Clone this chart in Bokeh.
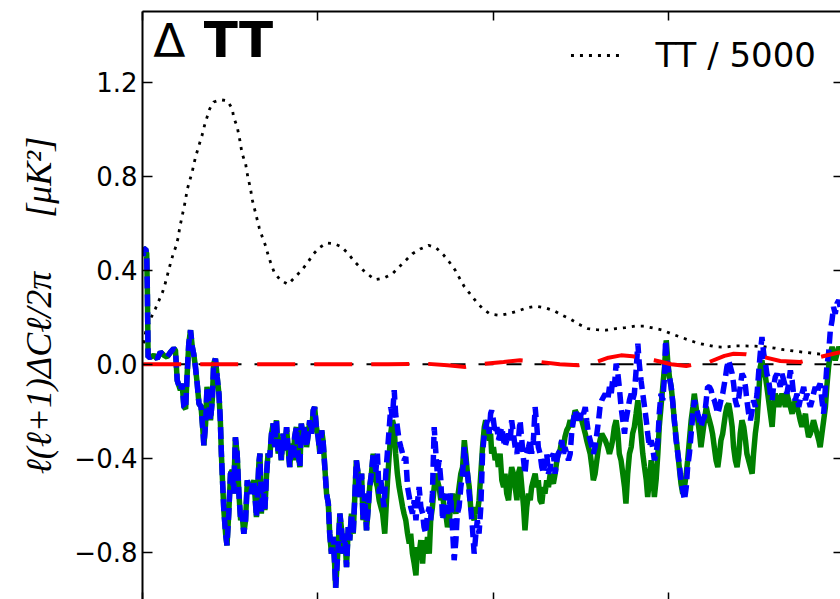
from bokeh.plotting import figure
from bokeh.models import (Range1d, LinearAxis, FixedTicker, CustomJSTickFormatter,
                          Span, Label, Legend, LegendItem)
from bokeh.embed import file_html
from bokeh.resources import INLINE

# ---------------- data ----------------
x_ticks = [0, 500, 1000, 1500, 2000]
y_ticks = [-0.8, -0.4, 0.0, 0.4, 0.8, 1.2]
legend_label = "TT / 5000"
title_symbol = "Δ"
title_text = "TT"
y_label = "ℓ(ℓ+1)ΔCℓ/2π\u2003\u2002[μK²]"

# TT spectrum / 5000  (ell, value)
tt_over_5000 = [
    (2, 0.09), (4, 0.095), (9, 0.137), (25, 0.20), (37, 0.237), (48, 0.275), (58, 0.31),
    (66, 0.35), (73, 0.39), (80, 0.43), (87, 0.466), (95, 0.50), (102, 0.54), (106, 0.58),
    (123, 0.70), (127, 0.74), (142, 0.82), (151, 0.88), (163, 0.94), (170, 0.974),
    (177, 1.016), (184, 1.05), (192, 1.087), (203, 1.115), (222, 1.125), (242, 1.12),
    (256, 1.087), (260, 1.05), (270, 1.01), (278, 0.95), (284, 0.896), (294, 0.853),
    (300, 0.80), (308, 0.747), (313, 0.70), (333, 0.58), (342, 0.54), (352, 0.50),
    (358, 0.466), (366, 0.43), (376, 0.39), (394, 0.357), (415, 0.34), (434, 0.369),
    (454, 0.40), (470, 0.43), (487, 0.468), (504, 0.495), (525, 0.516), (547, 0.513),
    (568, 0.499), (587, 0.47), (604, 0.438), (622, 0.41), (641, 0.385), (663, 0.36),
    (689, 0.367), (713, 0.385), (732, 0.414), (751, 0.442), (770, 0.47), (792, 0.49),
    (816, 0.506), (837, 0.496), (858, 0.466), (875, 0.435), (892, 0.40), (905, 0.364),
    (918, 0.33), (934, 0.30), (951, 0.268), (970, 0.237), (991, 0.214), (1020, 0.208),
    (1044, 0.215), (1072, 0.227), (1096, 0.24), (1123, 0.247), (1150, 0.24), (1175, 0.227),
    (1198, 0.208), (1223, 0.19), (1245, 0.17), (1270, 0.152), (1296, 0.147), (1322, 0.145),
    (1351, 0.152), (1377, 0.156), (1405, 0.162), (1432, 0.162), (1458, 0.154), (1484, 0.145),
    (1508, 0.13), (1534, 0.116), (1560, 0.102), (1584, 0.09), (1612, 0.081), (1636, 0.074),
    (1660, 0.073), (1691, 0.078), (1720, 0.078), (1748, 0.077), (1777, 0.074), (1803, 0.069),
    (1829, 0.062), (1856, 0.057), (1882, 0.052), (1907, 0.048), (1934, 0.043), (1960, 0.040),
    (1990, 0.038),
]

# Delta C_ell common to both estimates at low ell  (ell, value)
delta_low = [
    (2, 0.46), (5, 0.49), (9, 0.49), (12, 0.47), (14, 0.30), (16, 0.03), (23, 0.031),
    (32, 0.038), (42, 0.024), (51, 0.052), (61, 0.038), (70, 0.031), (80, 0.052), (89, 0.067),
    (94, 0.06), (99, -0.068), (108, -0.11), (113, -0.082), (118, -0.18), (123, -0.19),
    (127, -0.054), (132, 0.088), (137, 0.145), (142, 0.074), (146, 0.045), (151, -0.011),
    (156, -0.082), (161, -0.167), (167, -0.18), (173, -0.295), (175, -0.344), (180, -0.252),
    (184, -0.096), (189, -0.153), (194, -0.238), (199, -0.153), (203, 0.003), (208, 0.024),
    (213, -0.054), (218, -0.125), (222, -0.238), (225, -0.38), (229, -0.52), (232, -0.62),
    (237, -0.72), (241, -0.77), (246, -0.635), (251, -0.465), (256, -0.45), (260, -0.55),
    (265, -0.31), (270, -0.38), (275, -0.55), (280, -0.663), (284, -0.635), (289, -0.72),
    (294, -0.663), (299, -0.493), (303, -0.52), (308, -0.55), (318, -0.493), (325, -0.65),
    (332, -0.42), (335, -0.38), (339, -0.635), (344, -0.507), (349, -0.62), (354, -0.465),
    (358, -0.38), (363, -0.394), (368, -0.295), (373, -0.252), (377, -0.352), (382, -0.238),
    (387, -0.38), (392, -0.323), (396, -0.408), (401, -0.295), (406, -0.366), (411, -0.267),
    (415, -0.352), (420, -0.437), (425, -0.337), (430, -0.408), (434, -0.309), (439, -0.267),
    (444, -0.38), (449, -0.437), (453, -0.252), (458, -0.309), (463, -0.267), (468, -0.352),
    (473, -0.295), (477, -0.238), (482, -0.295), (487, -0.196), (491, -0.182), (496, -0.267),
    (501, -0.309), (506, -0.38), (511, -0.281), (515, -0.323), (520, -0.437), (525, -0.55),
    (530, -0.592), (534, -0.72), (539, -0.805), (544, -0.734), (548, -0.847), (551, -0.95),
    (558, -0.777), (563, -0.635), (568, -0.706), (572, -0.805), (577, -0.72), (582, -0.862),
    (587, -0.692), (591, -0.748), (596, -0.635), (601, -0.72), (606, -0.55), (610, -0.408),
    (615, -0.465), (620, -0.564), (625, -0.465), (629, -0.663), (634, -0.55), (639, -0.706),
    (644, -0.607), (648, -0.522), (653, -0.465), (658, -0.38),
]

# green (solid) estimate above ell ~ 660
green_high = [
    (661, -0.437), (665, -0.493), (670, -0.522), (675, -0.578), (680, -0.607), (685, -0.635),
    (691, -0.72), (699, -0.493), (704, -0.38), (708, -0.295), (713, -0.238), (718, -0.267),
    (722, -0.38), (727, -0.465), (732, -0.522), (737, -0.564), (742, -0.607), (746, -0.635),
    (751, -0.663), (756, -0.72), (761, -0.762), (765, -0.72), (770, -0.805), (775, -0.847),
    (780, -0.897), (784, -0.777), (789, -0.805), (794, -0.748), (799, -0.847), (803, -0.748),
    (808, -0.805), (813, -0.734), (818, -0.805), (822, -0.663), (827, -0.607), (832, -0.522),
    (837, -0.465), (841, -0.493), (846, -0.522), (851, -0.578), (856, -0.55), (860, -0.607),
    (865, -0.635), (870, -0.692), (875, -0.663), (879, -0.607), (884, -0.55), (889, -0.607),
    (894, -0.635), (898, -0.578), (903, -0.522), (908, -0.465), (913, -0.437), (918, -0.323),
    (922, -0.38), (927, -0.465), (932, -0.522), (936, -0.607), (941, -0.635), (946, -0.663),
    (951, -0.607), (955, -0.635), (960, -0.578), (965, -0.465), (970, -0.352), (975, -0.267),
    (979, -0.238), (984, -0.295), (989, -0.323), (993, -0.295), (996, -0.38), (1001, -0.352),
    (1006, -0.408), (1011, -0.38), (1015, -0.437), (1020, -0.38), (1025, -0.493), (1030, -0.522),
    (1034, -0.465), (1039, -0.55), (1044, -0.578), (1049, -0.493), (1053, -0.437), (1058, -0.465),
    (1063, -0.522), (1068, -0.578), (1072, -0.465), (1077, -0.437), (1082, -0.522), (1087, -0.607),
    (1091, -0.706), (1096, -0.607), (1101, -0.55), (1106, -0.578), (1110, -0.522), (1115, -0.493),
    (1120, -0.465), (1125, -0.522), (1129, -0.493), (1134, -0.578), (1139, -0.592), (1144, -0.522),
    (1148, -0.55), (1153, -0.493), (1158, -0.522), (1163, -0.465), (1167, -0.493), (1172, -0.507),
    (1177, -0.465), (1182, -0.408), (1186, -0.38), (1191, -0.366), (1196, -0.323), (1201, -0.352),
    (1205, -0.309), (1210, -0.281), (1215, -0.267), (1220, -0.238), (1224, -0.267), (1229, -0.238),
    (1234, -0.196), (1239, -0.21), (1244, -0.238), (1248, -0.224), (1253, -0.238), (1258, -0.267),
    (1263, -0.295), (1267, -0.323), (1272, -0.352), (1277, -0.38), (1282, -0.437), (1286, -0.493),
    (1291, -0.465), (1296, -0.408), (1301, -0.352), (1305, -0.323), (1310, -0.295), (1315, -0.309),
    (1320, -0.323), (1327, -0.352), (1332, -0.38), (1337, -0.352), (1341, -0.323), (1346, -0.266),
    (1351, -0.238), (1356, -0.295), (1360, -0.38), (1365, -0.408), (1370, -0.465), (1375, -0.522),
    (1379, -0.592), (1384, -0.465), (1389, -0.38), (1394, -0.352), (1398, -0.295), (1403, -0.266),
    (1408, -0.21), (1413, -0.153), (1417, -0.21), (1422, -0.295), (1427, -0.38), (1432, -0.437),
    (1437, -0.493), (1441, -0.564), (1446, -0.493), (1451, -0.408), (1455, -0.465), (1460, -0.564),
    (1465, -0.493), (1470, -0.38), (1474, -0.266), (1479, -0.181), (1484, -0.096), (1489, -0.011),
    (1494, 0.102), (1498, 0.017), (1503, -0.054), (1508, -0.096), (1512, -0.153), (1517, -0.238),
    (1522, -0.309), (1527, -0.38), (1532, -0.451), (1536, -0.507), (1541, -0.55), (1546, -0.522),
    (1551, -0.465), (1555, -0.408), (1560, -0.323), (1565, -0.238), (1570, -0.181), (1574, -0.125),
    (1579, -0.181), (1584, -0.238), (1589, -0.295), (1593, -0.352), (1598, -0.295), (1603, -0.238),
    (1608, -0.181), (1612, -0.21), (1617, -0.238), (1622, -0.266), (1626, -0.295), (1631, -0.352),
    (1636, -0.408), (1641, -0.437), (1646, -0.38), (1650, -0.323), (1655, -0.295), (1663, -0.21),
    (1667, -0.181), (1672, -0.167), (1677, -0.21), (1682, -0.266), (1686, -0.352), (1691, -0.408),
    (1696, -0.437), (1701, -0.38), (1705, -0.295), (1710, -0.238), (1715, -0.266), (1720, -0.323),
    (1724, -0.38), (1729, -0.408), (1734, -0.437), (1739, -0.465), (1743, -0.38), (1748, -0.295),
    (1753, -0.238), (1758, -0.125), (1762, -0.011), (1767, 0.017), (1772, -0.04), (1777, -0.054),
    (1781, -0.096), (1786, -0.153), (1791, -0.21), (1796, -0.266), (1800, -0.181), (1805, -0.125),
    (1810, -0.153), (1815, -0.181), (1819, -0.153), (1824, -0.125), (1829, -0.153), (1834, -0.181),
    (1838, -0.125), (1843, -0.153), (1848, -0.181), (1853, -0.21), (1857, -0.181), (1862, -0.153),
    (1867, -0.181), (1872, -0.21), (1876, -0.238), (1881, -0.266), (1886, -0.238), (1891, -0.21),
    (1895, -0.266), (1900, -0.309), (1905, -0.295), (1910, -0.266), (1914, -0.238), (1919, -0.266),
    (1924, -0.295), (1929, -0.323), (1933, -0.352), (1938, -0.295), (1943, -0.238), (1948, -0.181),
    (1952, -0.096), (1957, -0.011), (1962, 0.045), (1967, 0.074), (1971, 0.045), (1976, 0.017),
    (1981, 0.045), (1986, 0.074), (1990, 0.06),
]

# blue (dashed) estimate above ell ~ 660
blue_high = [
    (661, -0.38), (665, -0.465), (670, -0.38), (675, -0.55), (680, -0.493), (685, -0.564),
    (689, -0.607), (694, -0.465), (699, -0.366), (704, -0.267), (708, -0.182), (713, -0.224),
    (718, -0.11), (722, -0.21), (727, -0.267), (732, -0.323), (737, -0.352), (742, -0.38),
    (746, -0.408), (751, -0.394), (756, -0.522), (761, -0.564), (765, -0.607), (770, -0.635),
    (775, -0.578), (780, -0.663), (784, -0.592), (789, -0.522), (794, -0.607), (799, -0.635),
    (803, -0.692), (808, -0.72), (813, -0.635), (818, -0.607), (822, -0.663), (827, -0.55),
    (832, -0.267), (837, -0.38), (841, -0.465), (846, -0.408), (851, -0.493), (856, -0.663),
    (860, -0.607), (865, -0.55), (870, -0.635), (875, -0.607), (879, -0.55), (884, -0.692),
    (889, -0.833), (894, -0.748), (898, -0.635), (903, -0.607), (908, -0.522), (913, -0.465),
    (918, -0.352), (922, -0.408), (927, -0.465), (932, -0.55), (936, -0.607), (941, -0.692),
    (946, -0.805), (951, -0.72), (955, -0.663), (960, -0.72), (965, -0.607), (970, -0.38),
    (975, -0.295), (979, -0.267), (984, -0.238), (989, -0.295), (993, -0.21), (996, -0.196),
    (1001, -0.238), (1006, -0.295), (1011, -0.267), (1015, -0.323), (1020, -0.295), (1025, -0.267),
    (1030, -0.323), (1034, -0.352), (1039, -0.323), (1044, -0.295), (1049, -0.323), (1053, -0.238),
    (1058, -0.295), (1063, -0.352), (1068, -0.38), (1072, -0.323), (1077, -0.238), (1082, -0.323),
    (1087, -0.408), (1091, -0.465), (1096, -0.38), (1101, -0.352), (1106, -0.323), (1110, -0.38),
    (1115, -0.323), (1120, -0.182), (1125, -0.267), (1129, -0.352), (1134, -0.38), (1139, -0.437),
    (1144, -0.465), (1148, -0.408), (1153, -0.38), (1158, -0.465), (1163, -0.437), (1167, -0.394),
    (1172, -0.38), (1177, -0.465), (1182, -0.408), (1186, -0.38), (1191, -0.366), (1196, -0.323),
    (1201, -0.38), (1205, -0.352), (1210, -0.38), (1215, -0.408), (1220, -0.38), (1224, -0.295),
    (1229, -0.238), (1234, -0.196), (1239, -0.238), (1244, -0.21), (1248, -0.238), (1253, -0.196),
    (1258, -0.21), (1263, -0.182), (1267, -0.238), (1272, -0.295), (1277, -0.323), (1282, -0.352),
    (1286, -0.38), (1291, -0.352), (1296, -0.295), (1301, -0.238), (1305, -0.182), (1310, -0.153),
    (1315, -0.139), (1320, -0.125), (1327, -0.153), (1332, -0.096), (1337, -0.125), (1341, -0.068),
    (1346, -0.096), (1351, 0.003), (1356, -0.04), (1360, -0.096), (1365, -0.181), (1370, -0.238),
    (1375, -0.295), (1379, -0.238), (1384, -0.196), (1389, -0.153), (1394, -0.125), (1398, -0.153),
    (1403, -0.125), (1408, -0.026), (1413, 0.088), (1417, 0.003), (1422, -0.068), (1427, -0.125),
    (1432, -0.181), (1437, -0.238), (1441, -0.295), (1446, -0.352), (1451, -0.323), (1455, -0.352),
    (1460, -0.408), (1465, -0.38), (1470, -0.323), (1474, -0.21), (1479, -0.125), (1484, -0.153),
    (1489, -0.054), (1492, 0.102), (1496, 0.017), (1503, -0.054), (1508, -0.096), (1512, -0.153),
    (1517, -0.238), (1522, -0.323), (1527, -0.38), (1532, -0.437), (1536, -0.493), (1541, -0.536),
    (1546, -0.578), (1551, -0.522), (1555, -0.437), (1560, -0.38), (1565, -0.295), (1570, -0.21),
    (1574, -0.153), (1579, -0.181), (1584, -0.21), (1589, -0.238), (1593, -0.266), (1598, -0.238),
    (1603, -0.224), (1608, -0.153), (1612, -0.096), (1617, -0.096), (1622, -0.11), (1626, -0.139),
    (1631, -0.153), (1636, -0.181), (1641, -0.21), (1646, -0.181), (1650, -0.153), (1655, -0.125),
    (1663, -0.054), (1667, -0.011), (1672, 0.017), (1677, -0.011), (1682, -0.04), (1686, -0.082),
    (1691, -0.153), (1696, -0.181), (1701, -0.139), (1705, -0.096), (1710, -0.04), (1715, -0.054),
    (1720, -0.096), (1724, -0.153), (1729, -0.21), (1734, -0.238), (1739, -0.196), (1743, -0.153),
    (1748, -0.181), (1753, -0.125), (1758, -0.026), (1762, 0.045), (1767, 0.116), (1772, 0.045),
    (1777, 0.003), (1781, -0.04), (1786, -0.068), (1791, -0.125), (1796, -0.153), (1800, -0.096),
    (1805, -0.054), (1810, -0.04), (1815, -0.068), (1819, -0.096), (1824, -0.04), (1829, -0.068),
    (1834, -0.096), (1838, -0.125), (1843, -0.082), (1848, -0.026), (1853, -0.068), (1857, -0.125),
    (1862, -0.153), (1867, -0.125), (1872, -0.181), (1876, -0.153), (1881, -0.125), (1886, -0.096),
    (1891, -0.153), (1895, -0.125), (1900, -0.153), (1905, -0.181), (1910, -0.153), (1914, -0.125),
    (1919, -0.096), (1924, -0.125), (1929, -0.096), (1933, -0.082), (1938, -0.153), (1943, -0.21),
    (1948, -0.096), (1952, -0.011), (1957, 0.045), (1962, 0.145), (1967, 0.187), (1971, 0.244),
    (1976, 0.215), (1981, 0.258), (1986, 0.272), (1990, 0.244),
]

# red (long dashed) curve
red_curve = [
    (2, 0.0), (400, 0.0), (700, 0.0), (813, 0.002), (870, -0.004), (921, -0.011), (975, 0.002),
    (1030, 0.01), (1077, 0.017), (1134, 0.01), (1190, 0.0), (1243, -0.004), (1295, 0.01),
    (1329, 0.028), (1365, 0.038), (1398, 0.034), (1460, 0.017), (1508, 0.0), (1551, -0.007),
    (1617, 0.01), (1660, 0.036), (1686, 0.045), (1720, 0.043), (1772, 0.031), (1819, 0.014),
    (1876, 0.01), (1933, 0.031), (1990, 0.052),
]


def cols(pairs):
    return [a for a, _ in pairs], [b for _, b in pairs]


# ---------------- figure ----------------
p = figure(width=840, height=599, output_backend="svg", toolbar_location=None,
           x_range=Range1d(0, 1991), y_range=Range1d(-1.0, 1.5),
           x_axis_location=None, y_axis_location=None,
           min_border_left=142, min_border_right=0, min_border_top=11, min_border_bottom=0)
p.outline_line_color = None
p.xgrid.visible = False
p.ygrid.visible = False
p.background_fill_color = "white"
p.border_fill_color = "white"

minus_fmt = CustomJSTickFormatter(code="return tick.toFixed(1).replace('-', '\u2212');")
blank_fmt = CustomJSTickFormatter(code="return '';")

left = LinearAxis(ticker=FixedTicker(ticks=y_ticks), formatter=minus_fmt,
                  axis_line_width=2, axis_line_color="black",
                  major_tick_in=10, major_tick_out=0, minor_tick_in=0, minor_tick_out=0,
                  major_tick_line_width=1.5,
                  major_label_text_font="DejaVu Sans", major_label_text_font_size="26px",
                  major_label_text_color="black", major_label_standoff=5,
                  axis_label=y_label, axis_label_text_font="Liberation Serif",
                  axis_label_text_font_style="italic", axis_label_text_font_size="36px",
                  axis_label_text_color="black", axis_label_standoff=12)
p.add_layout(left, "left")

top = LinearAxis(ticker=FixedTicker(ticks=x_ticks), formatter=blank_fmt,
                 axis_line_width=2, axis_line_color="black",
                 major_tick_in=9, major_tick_out=0, minor_tick_in=0, minor_tick_out=0,
                 major_tick_line_width=1.5, major_label_standoff=0,
                 major_label_text_font_size="0px")
p.add_layout(top, "above")

bottom = LinearAxis(ticker=FixedTicker(ticks=x_ticks), formatter=blank_fmt,
                    axis_line_color=None,
                    major_tick_in=7, major_tick_out=0, minor_tick_in=0, minor_tick_out=0,
                    major_tick_line_width=1.5, major_label_standoff=0,
                    major_label_text_font_size="0px")
p.add_layout(bottom, "below")

right = LinearAxis(ticker=FixedTicker(ticks=y_ticks), formatter=blank_fmt,
                   axis_line_color=None,
                   major_tick_in=7, major_tick_out=0, minor_tick_in=0, minor_tick_out=0,
                   major_tick_line_width=1.5, major_label_standoff=0,
                   major_label_text_font_size="0px")
p.add_layout(right, "right")

zero = Span(location=0, dimension="width", line_color="black", line_width=2,
            line_dash="15 13", level="underlay")
p.add_layout(zero)

l_tt, v_tt = cols(tt_over_5000)
r_tt = p.line(l_tt, v_tt, line_color="black", line_width=2.8, line_dash="3 6")

l_g, v_g = cols(delta_low + green_high)
p.line(l_g, v_g, line_color="#008000", line_width=5.5)

l_b, v_b = cols(delta_low + blue_high)
p.line(l_b, v_b, line_color="#0000ff", line_width=5.5, line_dash="12 6")

l_r, v_r = cols(red_curve)
p.line(l_r, v_r, line_color="#ff0000", line_width=4, line_dash="38 19")

legend = Legend(items=[LegendItem(label=legend_label, renderers=[r_tt])],
                location="top_right", border_line_color=None, background_fill_alpha=0,
                label_text_font="DejaVu Sans", label_text_font_size="34px",
                label_text_color="black", glyph_width=50, glyph_height=20,
                label_standoff=35, margin=24, padding=12, spacing=0)
p.add_layout(legend)

p.add_layout(Label(x=31, y=1.378, text=title_symbol, text_font="DejaVu Sans",
                   text_font_size="47px", text_baseline="alphabetic", text_color="black"))
p.add_layout(Label(x=175, y=1.378, text=title_text, text_font="DejaVu Sans",
                   text_font_style="bold", text_font_size="50px",
                   text_baseline="alphabetic", text_color="black"))

open("out.html", "w").write(file_html(p, INLINE))
